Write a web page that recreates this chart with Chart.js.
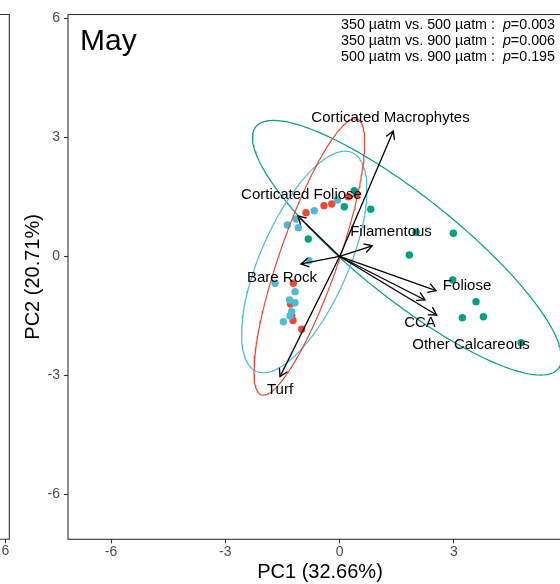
<!DOCTYPE html>
<html>
<head>
<meta charset="utf-8">
<script src="https://cdn.jsdelivr.net/npm/chart.js@4.4.0/dist/chart.umd.min.js"></script>
<style>
  html, body { margin: 0; padding: 0; overflow: hidden; background: #fff; width: 560px; height: 584px; }
  #wrap { position: absolute; left: 0; top: 0; width: 620px; height: 584px; }
</style>
</head>
<body>
<div id="wrap"><canvas id="pca" width="620" height="584"></canvas></div>
<script>
// PCA scores per CO2 treatment (PC1, PC2)
const treatments = ['350 µatm', '500 µatm', '900 µatm'];
const pc1_350 = [-0.882, -0.410, -0.207, 0.228, 0.449, -1.216, -1.289, -1.258, -1.223, -0.995];
const pc2_350 = [1.104, 1.281, 1.323, 1.507, 1.550, -0.676, -1.197, -1.487, -1.613, -1.835];
const pc1_500 = [-1.373, -1.145, -1.084, -0.664, -0.060, -0.803, -1.696, -1.171, -1.315, -1.171, -1.258, -1.302, -1.478];
const pc2_500 = [0.794, 0.945, 0.726, 1.155, 1.424, -0.106, -0.676, -0.887, -1.097, -1.165, -1.391, -1.500, -1.644];
const pc1_900 = [0.386, 0.123, 0.816, -0.822, 2.006, 2.985, 1.830, 2.969, 3.581, 3.221, 3.773, 4.762];
const pc2_900 = [1.659, 1.255, 1.190, 0.441, 0.610, 0.585, 0.038, -0.592, -1.139, -1.543, -1.518, -2.173];

// 95% ellipse summaries per treatment: centre and shape matrix (sxx, syy, sxy)
const ellipseCentreX = [-0.795, -0.928, 1.77];
const ellipseCentreY = [-0.013, -0.139, 0.22];
const ellipseSxx = [2.11, 2.705, 16.46];
const ellipseSyy = [12.14, 7.80, 10.3];
const ellipseSxy = [4.195, 2.997, -11.25];

// Variable loadings (arrow tips) and where their names sit
const varNames = ['Corticated Macrophytes', 'Corticated Foliose', 'Filamentous', 'Bare Rock', 'Turf', 'Foliose', 'CCA', 'Other Calcareous'];
const loadX = [1.410, -1.092, 0.856, -1.013, -1.565, 2.531, 2.242, 2.549];
const loadY = [3.164, 1.021, 0.270, -0.189, -3.030, -0.862, -1.097, -1.475];
const labelX = [1.336, -1.000, 1.349, -1.512, -1.565, 3.345, 2.111, 3.450];
const labelY = [3.484, 1.550, 0.618, -0.542, -3.365, -0.744, -1.676, -2.231];

// Pairwise test results
const comparisons = ['350 µatm vs. 500 µatm', '350 µatm vs. 900 µatm', '500 µatm vs. 900 µatm'];
const pValues = ['0.003', '0.006', '0.195'];

const panelTitle = 'May';
const xTitle = 'PC1 (32.66%)';
const yTitle = 'PC2 (20.71%)';
const tickValues = [-6, -3, 0, 3, 6];
const axisMin = -7.13, axisMax = 6.10;

const colours = ['#E64B35', '#4DBBD5', '#00A087'];
const FONT = '"Liberation Sans", Arial, Helvetica, sans-serif';

function pairs(xs, ys) { return xs.map((v, i) => ({ x: v, y: ys[i] })); }

function ellipseOutline(g) {
  const l11 = Math.sqrt(ellipseSxx[g]);
  const l21 = ellipseSxy[g] / l11;
  const l22 = Math.sqrt(ellipseSyy[g] - l21 * l21);
  const pts = [];
  for (let k = 0; k <= 240; k++) {
    const t = 2 * Math.PI * k / 240;
    pts.push({ x: ellipseCentreX[g] + l11 * Math.cos(t),
               y: ellipseCentreY[g] + l21 * Math.cos(t) + l22 * Math.sin(t) });
  }
  return pts;
}

const scores = [pairs(pc1_350, pc2_350), pairs(pc1_500, pc2_500), pairs(pc1_900, pc2_900)];

const datasets = [];
// points: 350 drawn first, 900 last
scores.forEach((d, g) => {
  datasets.push({ label: treatments[g], data: d, showLine: false, pointRadius: 3.7,
    pointBackgroundColor: colours[g], pointBorderWidth: 0, pointHoverRadius: 3.7, order: 10 - g });
});
scores.forEach((d, g) => {
  datasets.push({ label: treatments[g] + ' ellipse', data: ellipseOutline(g), showLine: true,
    borderColor: colours[g], borderWidth: 1.2, pointRadius: 0, fill: false, order: 3 });
});
varNames.forEach((n, i) => {
  datasets.push({ label: n, data: [{ x: 0, y: 0 }, { x: loadX[i], y: loadY[i] }], showLine: true,
    borderColor: '#000', borderWidth: 1.3, pointRadius: 0, fill: false, order: 1 });
});

const decor = {
  id: 'decor',
  afterDatasetsDraw(chart) {
    const { ctx, scales: { x, y } } = chart;
    const x0 = x.getPixelForValue(0), y0 = y.getPixelForValue(0);
    ctx.save();
    ctx.strokeStyle = '#000';
    ctx.lineWidth = 1.3;
    ctx.lineJoin = 'miter';
    for (let i = 0; i < varNames.length; i++) {
      const x1 = x.getPixelForValue(loadX[i]), y1 = y.getPixelForValue(loadY[i]);
      const ang = Math.atan2(y1 - y0, x1 - x0), L = 9, h = Math.PI / 6;
      ctx.beginPath();
      ctx.moveTo(x1 - L * Math.cos(ang - h), y1 - L * Math.sin(ang - h));
      ctx.lineTo(x1, y1);
      ctx.lineTo(x1 - L * Math.cos(ang + h), y1 - L * Math.sin(ang + h));
      ctx.stroke();
    }
    ctx.fillStyle = '#000';
    ctx.font = '15px ' + FONT;
    ctx.textAlign = 'center';
    ctx.textBaseline = 'middle';
    for (let i = 0; i < varNames.length; i++) {
      ctx.fillText(varNames[i], x.getPixelForValue(labelX[i]), y.getPixelForValue(labelY[i]));
    }
    ctx.restore();
  },
  afterDraw(chart) {
    const { ctx, chartArea: a } = chart;
    ctx.save();
    // panel border
    ctx.strokeStyle = '#333333';
    ctx.lineWidth = 1.1;
    ctx.strokeRect(a.left, a.top, a.right - a.left, a.bottom - a.top);
    // edge of the neighbouring panel
    ctx.beginPath();
    ctx.moveTo(-2, a.top); ctx.lineTo(9.3, a.top); ctx.lineTo(9.3, a.bottom); ctx.lineTo(-2, a.bottom);
    ctx.moveTo(5.5, a.bottom); ctx.lineTo(5.5, a.bottom + 4);
    ctx.stroke();
    ctx.fillStyle = '#4D4D4D';
    ctx.font = '14px ' + FONT;
    ctx.textAlign = 'center';
    ctx.textBaseline = 'top';
    ctx.fillText('6', 5.5, a.bottom + 5);
    // panel title
    ctx.fillStyle = '#000';
    ctx.font = '30px ' + FONT;
    ctx.textAlign = 'left';
    ctx.textBaseline = 'alphabetic';
    ctx.fillText(panelTitle, 80, 50);
    // test results, right aligned
    const fs = 14.3, right = 555;
    for (let i = 0; i < comparisons.length; i++) {
      const base = 29 + i * 16;
      const partA = comparisons[i] + ' :  ';
      const partC = '=' + pValues[i];
      ctx.font = fs + 'px ' + FONT;
      const wA = ctx.measureText(partA).width, wC = ctx.measureText(partC).width;
      ctx.font = 'italic ' + fs + 'px ' + FONT;
      const wB = ctx.measureText('p').width;
      let xs = right - wA - wB - wC;
      ctx.font = fs + 'px ' + FONT;
      ctx.fillText(partA, xs, base);
      ctx.font = 'italic ' + fs + 'px ' + FONT;
      ctx.fillText('p', xs + wA, base);
      ctx.font = fs + 'px ' + FONT;
      ctx.fillText(partC, xs + wA + wB, base);
    }
    ctx.restore();
  }
};

const tickFont = { family: FONT, size: 14 };
const titleFont = { family: FONT, size: 20 };

new Chart(document.getElementById('pca'), {
  type: 'scatter',
  data: { datasets },
  options: {
    responsive: false,
    animation: false,
    events: [],
    layout: { padding: { left: 0, top: 14.5, right: 48, bottom: 0 } },
    plugins: { legend: { display: false }, tooltip: { enabled: false } },
    scales: {
      x: {
        type: 'linear', min: axisMin, max: axisMax,
        afterBuildTicks: s => { s.ticks = tickValues.map(v => ({ value: v })); },
        afterFit: s => { s.height = 44.7; },
        grid: { drawOnChartArea: false, drawTicks: true, tickLength: 4, color: '#333333', tickWidth: 1.1 },
        border: { display: false },
        ticks: { color: '#4D4D4D', font: tickFont, padding: 0, maxRotation: 0, autoSkip: false },
        title: { display: true, text: xTitle, color: '#000', font: titleFont, padding: { top: 0, bottom: 0 } }
      },
      y: {
        type: 'linear', min: axisMin, max: axisMax,
        afterBuildTicks: s => { s.ticks = tickValues.map(v => ({ value: v })); },
        afterFit: s => { s.width = 68; },
        grid: { drawOnChartArea: false, drawTicks: true, tickLength: 4, color: '#333333', tickWidth: 1.1 },
        border: { display: false },
        ticks: { color: '#4D4D4D', font: tickFont, padding: 4, autoSkip: false },
        title: { display: true, text: yTitle, color: '#000', font: titleFont, padding: { top: 21, bottom: 0 } }
      }
    }
  },
  plugins: [decor]
});
</script>
</body>
</html>
